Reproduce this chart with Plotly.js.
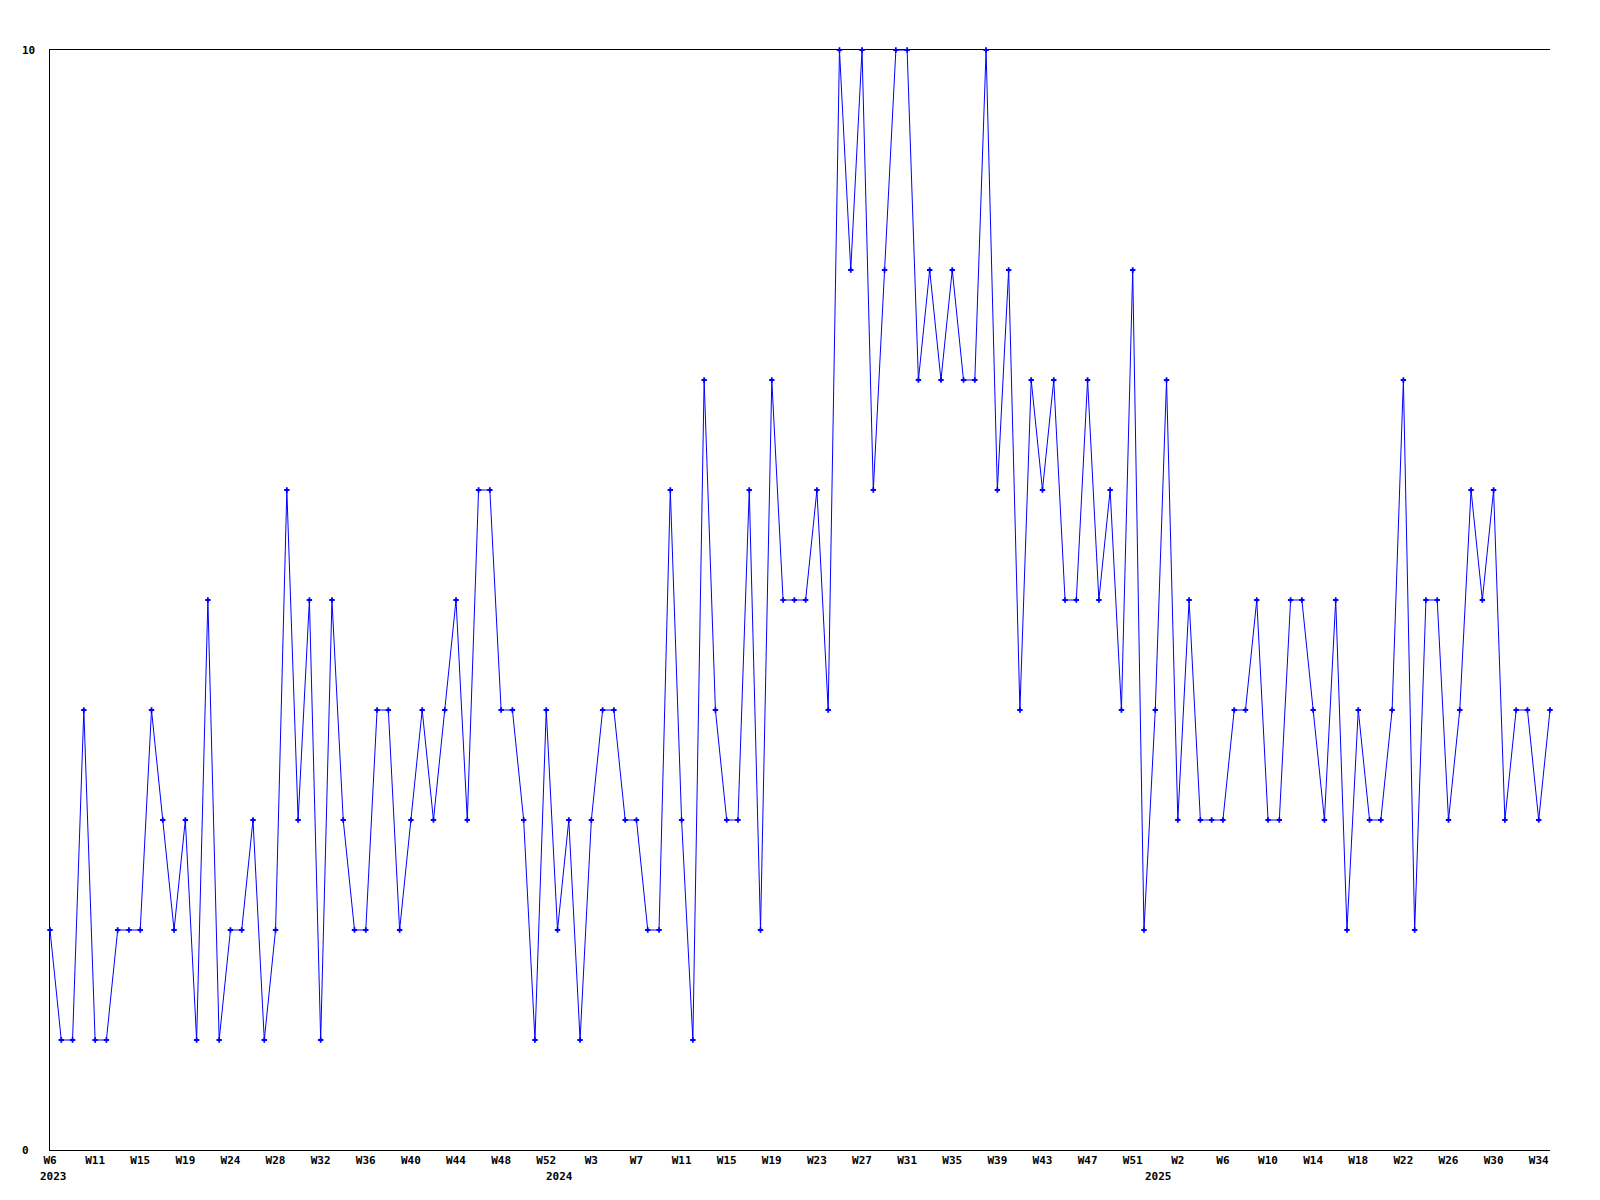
<!DOCTYPE html>
<html>
<head>
<meta charset="utf-8">
<script src="https://cdn.plot.ly/plotly-3.0.1.min.js"></script>
<style>html,body{margin:0;padding:0;background:#fff;}#chart{width:1600px;height:1200px;}</style>
</head>
<body>
<div id="chart"></div>
<script>
// Weekly values, W6 2023 .. W35 2025 (134 weeks)
const values = [
  2,1,1,4,1,1,2,2,2,4,
  3,2,3,1,5,1,2,2,3,1,
  2,6,3,5,1,5,3,2,2,4,
  4,2,3,4,3,4,5,3,6,6,
  4,4,3,1,4,2,3,1,3,4,
  4,3,3,2,2,6,3,1,7,4,
  3,3,6,2,7,5,5,5,6,4,
  10,8,10,6,8,10,10,7,8,7,
  8,7,7,10,6,8,4,7,6,7,
  5,5,7,5,6,4,8,2,4,7,
  3,5,3,3,3,4,4,5,3,3,
  5,5,4,3,5,2,4,3,3,4,
  7,2,5,5,3,4,6,5,6,3,
  4,4,3,4
];
const xIndex = values.map((v, i) => i);

// Tick labels, one every four weeks
const tickIndex = [0,4,8,12,16,20,24,28,32,36,40,44,48,52,56,60,64,68,72,76,80,84,88,92,96,100,104,108,112,116,120,124,128,132];
const tickLabels = ["W6","W11","W15","W19","W24","W28","W32","W36","W40","W44","W48","W52","W3","W7","W11","W15","W19","W23","W27","W31","W35","W39","W43","W47","W51","W2","W6","W10","W14","W18","W22","W26","W30","W34"];

// Year labels (second row)
const yearLabels = ["2023","2024","2025"];
const yearPos = [0.3, 45.2, 98.3];

// Y axis labels
const yTickVals = [0, 10];
const yTickText = ["0", "10"];

const FONT = {family: "DejaVu Sans Mono, monospace", size: 11, color: "#000", weight: "bold"};

const trace = {
  x: xIndex,
  y: values,
  type: "scatter",
  mode: "lines+markers",
  line: {color: "#0000ff", width: 1},
  marker: {color: "#0000ff", symbol: "cross", size: 4.5, line: {width: 0}},
  cliponaxis: false,
  hoverinfo: "x+y"
};

const annotations = [];
yearLabels.forEach((t, i) => {
  annotations.push({
    text: t, x: yearPos[i], xref: "x", y: -0.024, yref: "paper",
    showarrow: false, xanchor: "center", yanchor: "middle", font: FONT
  });
});
yTickVals.forEach((v, i) => {
  annotations.push({
    text: yTickText[i], x: -0.02, xref: "paper", y: v, yref: "y",
    showarrow: false, xanchor: "left", yanchor: "middle", font: FONT
  });
});

const layout = {
  width: 1600, height: 1200,
  margin: {l: 50, r: 50, t: 50, b: 50, pad: 0},
  paper_bgcolor: "#fff", plot_bgcolor: "#fff",
  showlegend: false,
  font: FONT,
  xaxis: {
    range: [0, 133], showgrid: false, zeroline: false,
    showline: true, mirror: true, linecolor: "#000", linewidth: 1, layer: "below traces",
    tickmode: "array", tickvals: tickIndex, ticktext: tickLabels,
    ticks: "", tickfont: FONT, ticklabelstandoff: 0
  },
  yaxis: {
    range: [0, 10], showgrid: false,
    zeroline: false, showline: true, linecolor: "#000", linewidth: 1, layer: "below traces",
    tickmode: "array", tickvals: yTickVals, showticklabels: false, ticks: ""
  },
  annotations: annotations
};

Plotly.newPlot("chart", [trace], layout, {displayModeBar: false, staticPlot: true});
</script>
</body>
</html>
